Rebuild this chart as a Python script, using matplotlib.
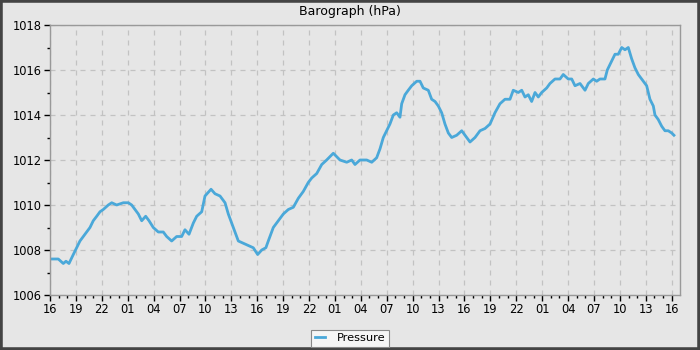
import matplotlib
matplotlib.use("Agg")
import matplotlib.pyplot as plt
from matplotlib.patches import Rectangle
from matplotlib.ticker import MultipleLocator

# hours since start (16:00) and pressure readings in hPa
hours = [0.0, 0.1, 0.96, 1.54, 1.85, 2.2, 2.7, 3.09, 3.47, 3.86, 4.25, 4.63, 5.01,
         5.41, 5.79, 6.17, 6.75, 7.15, 7.72, 8.49, 9.07, 9.46, 9.84, 10.23, 10.62,
         11.08, 11.47, 11.96, 12.54, 13.12, 13.51, 14.09, 14.67, 15.25, 15.63, 16.1,
         16.6, 16.99, 17.57, 17.95, 18.65, 19.11, 19.69, 20.27, 20.65, 21.23, 21.81,
         22.39, 22.96, 23.54, 24.05, 24.52, 25.0, 25.28, 25.86, 26.44, 27.02, 27.6,
         28.18, 28.76, 29.33, 29.91, 30.31, 30.89, 31.47, 32.04, 32.81, 33.58, 34.36,
         34.94, 35.32, 35.9, 36.68, 37.26, 37.83, 38.22, 38.6, 38.99, 39.37, 39.76,
         40.15, 40.53, 40.73, 41.11, 41.49, 41.89, 42.47, 42.85, 43.23, 43.81, 44.2,
         44.59, 44.97, 45.36, 45.74, 46.13, 46.52, 47.1, 47.68, 48.26, 48.64, 49.22,
         49.8, 50.38, 50.96, 51.53, 52.11, 52.69, 53.27, 53.65, 54.23, 54.63, 55.01,
         55.39, 55.78, 56.17, 56.55, 56.94, 57.52, 57.9, 58.48, 59.06, 59.44, 60.02,
         60.42, 60.8, 61.38, 61.96, 62.34, 62.92, 63.31, 63.69, 64.27, 64.54, 65.05,
         65.43, 65.81, 66.21, 66.59, 66.97, 67.36, 67.74, 68.13, 68.52, 69.1, 69.48,
         69.87, 70.06, 70.44, 70.84, 71.22, 71.6, 72.0, 72.26]
pressure = [1007.6, 1007.6, 1007.6, 1007.4, 1007.5, 1007.4, 1007.8, 1008.1, 1008.4,
            1008.6, 1008.8, 1009.0, 1009.3, 1009.5, 1009.7, 1009.8, 1010.0, 1010.1,
            1010.0, 1010.1, 1010.1, 1010.0, 1009.8, 1009.6, 1009.3, 1009.5, 1009.3,
            1009.0, 1008.8, 1008.8, 1008.6, 1008.4, 1008.6, 1008.6, 1008.9, 1008.7,
            1009.2, 1009.5, 1009.7, 1010.4, 1010.7, 1010.5, 1010.4, 1010.1, 1009.6,
            1009.0, 1008.4, 1008.3, 1008.2, 1008.1, 1007.8, 1008.0, 1008.1, 1008.4,
            1009.0, 1009.3, 1009.6, 1009.8, 1009.9, 1010.3, 1010.6, 1011.0, 1011.2,
            1011.4, 1011.8, 1012.0, 1012.3, 1012.0, 1011.9, 1012.0, 1011.8, 1012.0,
            1012.0, 1011.9, 1012.1, 1012.5, 1013.0, 1013.3, 1013.6, 1014.0, 1014.1,
            1013.9, 1014.5, 1014.9, 1015.1, 1015.3, 1015.5, 1015.5, 1015.2, 1015.1,
            1014.7, 1014.6, 1014.4, 1014.1, 1013.6, 1013.2, 1013.0, 1013.1, 1013.3,
            1013.0, 1012.8, 1013.0, 1013.3, 1013.4, 1013.6, 1014.1, 1014.5, 1014.7,
            1014.7, 1015.1, 1015.0, 1015.1, 1014.8, 1014.9, 1014.6, 1015.0, 1014.8,
            1015.0, 1015.2, 1015.4, 1015.6, 1015.6, 1015.8, 1015.6, 1015.6, 1015.3,
            1015.4, 1015.1, 1015.4, 1015.6, 1015.5, 1015.6, 1015.6, 1016.0, 1016.4,
            1016.7, 1016.7, 1017.0, 1016.9, 1017.0, 1016.5, 1016.1, 1015.8, 1015.6,
            1015.3, 1014.7, 1014.4, 1014.0, 1013.8, 1013.5, 1013.3, 1013.3, 1013.2,
            1013.1]

xtick_pos = list(range(0, 73, 3))
xtick_labels = ["16", "19", "22", "01", "04", "07", "10", "13"] * 3 + ["16"]

bg = "#e6e6e6"
line_col = "#4aa8d9"

fig = plt.figure(figsize=(7, 3.5), dpi=100, facecolor=bg)
ax = fig.add_axes([50/700, 55/350, 630/700, 270/350], facecolor=bg)

ax.plot(hours, pressure, color=line_col, lw=2.0, label="Pressure")

ax.set_xlim(0, 72.96)
ax.set_ylim(1006, 1018)
ax.set_xticks(xtick_pos)
ax.set_xticklabels(xtick_labels)
ax.xaxis.set_minor_locator(MultipleLocator(1))
ax.yaxis.set_major_locator(MultipleLocator(2))
ax.yaxis.set_minor_locator(MultipleLocator(1))
ax.tick_params(which="major", length=4, width=1, color="black", labelsize=8.3, pad=2)
ax.tick_params(which="minor", length=2, width=1, color="black")
ax.grid(True, which="major", ls=(0, (4, 4)), color="#c2c2c2", lw=0.9)
for s in ax.spines.values():
    s.set_color("#999999")
    s.set_linewidth(1)

# title and legend are centred on the figure, not the axes
fig.text(0.5, 1 - 12/350, "Barograph (hPa)", fontsize=9, ha="center", va="center")

leg = fig.legend(loc="center", bbox_to_anchor=(0.5, 0.034), fontsize=8.2,
                 fancybox=False, framealpha=1, facecolor="#f5f5f5", edgecolor="#888888",
                 handlelength=0.9, borderpad=0.3, handletextpad=1.0)
leg.get_frame().set_linewidth(0.8)

fig.patches.append(Rectangle((0, 0), 1, 1, transform=fig.transFigure, fill=False,
                             edgecolor="#444444", linewidth=4))

fig.savefig("out.png", dpi=100, facecolor=bg)
